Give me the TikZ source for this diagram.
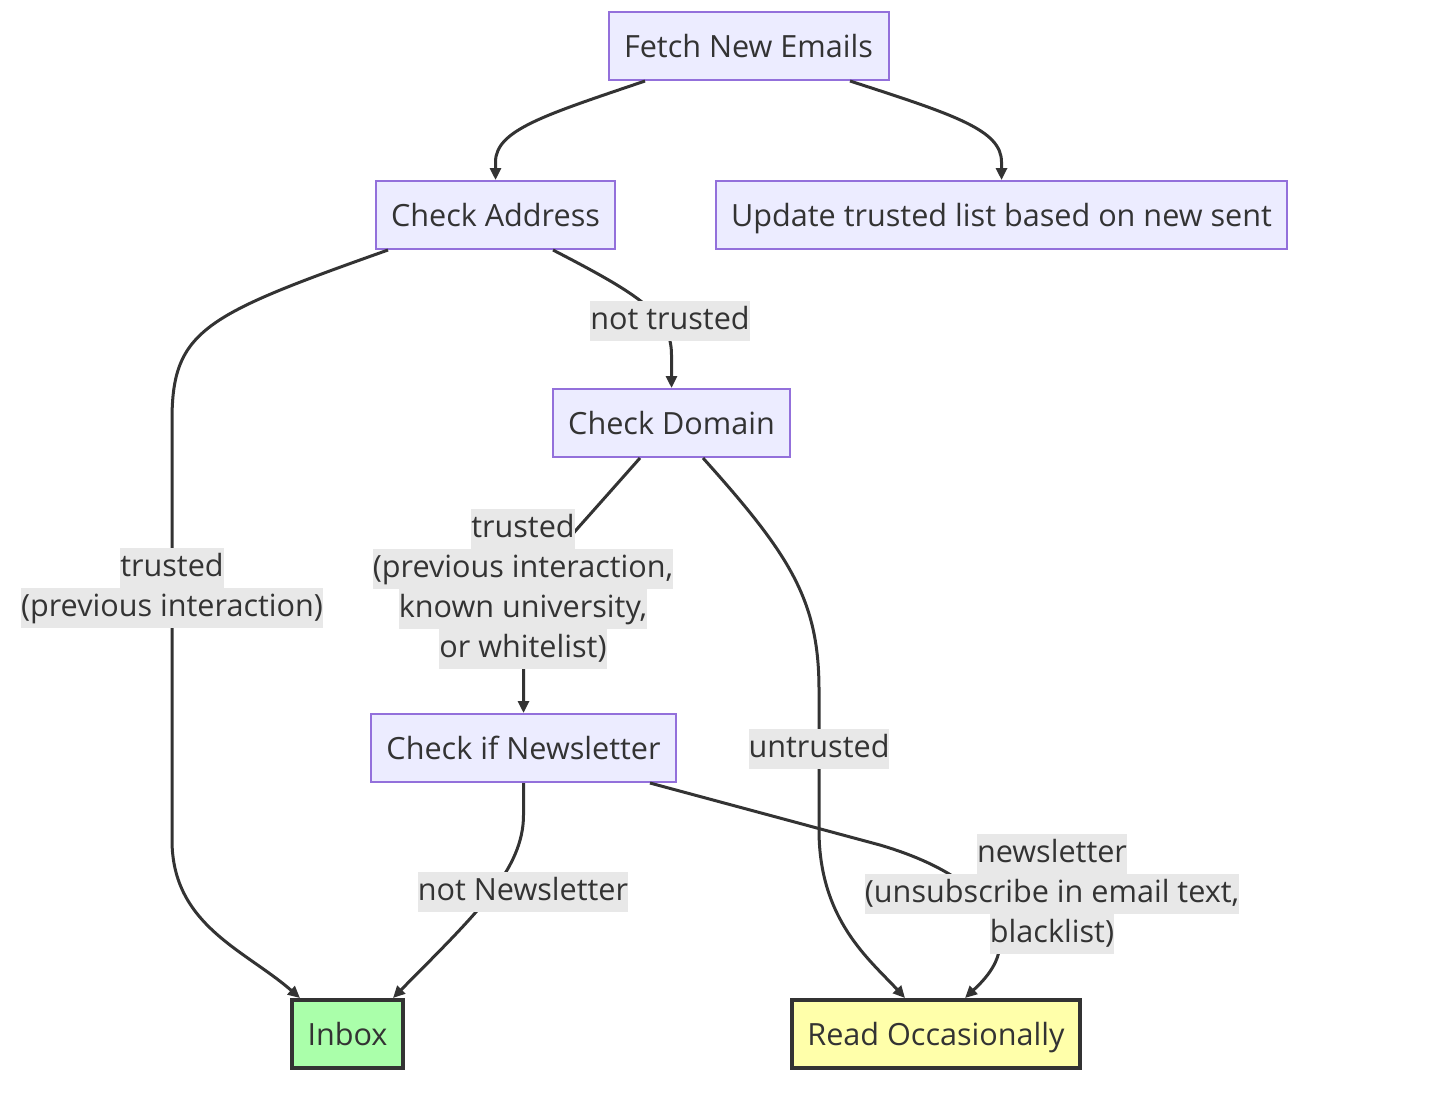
\documentclass[tikz,border=0pt]{standalone}
\usepackage{fontspec}
\setmainfont{Open Sans}
\usetikzlibrary{arrows.meta}

\definecolor{boxfill}{HTML}{ECECFF}
\definecolor{boxline}{HTML}{9370DB}
\definecolor{ink}{HTML}{333333}
\definecolor{lblbg}{HTML}{E8E8E8}
\definecolor{inboxfill}{HTML}{AAFFAA}
\definecolor{readfill}{HTML}{FFFFAA}

% one shaded line of an edge label
\newcommand\hlline[1]{{\setlength\fboxsep{0pt}\colorbox{lblbg}{\strut #1}}}

\begin{document}
\begin{tikzpicture}[
          x=0.5pt, y=-0.5pt,
          box/.style={
            draw=boxline, fill=boxfill, line width=1pt, text=ink,
            font=\fontsize{15.3}{20}\selectfont,
            minimum height=34pt, inner xsep=7.75pt,
            text height=11pt, text depth=0pt, anchor=center
          },
          sink/.style={box, draw=ink, line width=2pt},
          lbl/.style={text=ink, font=\fontsize{15.3}{20}\selectfont, align=center, inner sep=0pt},
          edge/.style={draw=ink, line width=1.5pt, -{Triangle[length=6pt, width=5.5pt]}},
        ]
          \useasboundingbox (0,0) rectangle (1454,1094);

          % Steps
          \node[box] (fetch) at (748.5, 46) {Fetch New Emails};
          \node[box] (addr) at (495.5, 215) {Check Address};
          \node[box] (update) at (1001.5, 215) {Update trusted list based on new sent};
          \node[box] (domain) at (671.5, 423) {Check Domain};
          \node[box] (news) at (523.5, 748) {Check if Newsletter};

          % Outcomes
          \node[sink, fill=inboxfill] (inbox) at (347.5, 1034) {Inbox};
          \node[sink, fill=readfill] (read) at (936, 1034) {Read Occasionally};

          % Edges out of Fetch
          \draw[edge] ([xshift=-51.75pt]fetch.south) .. controls (545,115) and (495.5,130) .. (addr.north |- 0,162) -- (addr.north);
          \draw[edge] ([xshift=50.75pt]fetch.south) .. controls (955,115) and (1001.5,130) .. (update.north |- 0,162) -- (update.north);

          % Edges out of Check Address
          \draw[edge] ([xshift=-53.75pt]addr.south) .. controls (205,315) and (172,330) .. (172,420) -- (172,840)
            .. controls (172,925) and (245,950) .. ([xshift=-23.75pt]inbox.north);
          \draw[edge] ([xshift=28.75pt]addr.south) .. controls (640,295) and (671.5,315) .. (domain.north |- 0,355) -- (domain.north);

          % Edges out of Check Domain
          \draw[edge] ([xshift=-15.75pt]domain.south) -- (585,520) .. controls (540,570) and (523.5,600) .. (news.north |- 0,640) -- (news.north);
          \draw[edge] ([xshift=15.75pt]domain.south) .. controls (790,555) and (819,600) .. (819,690) -- (819,830)
            .. controls (819,920) and (870,960) .. ([xshift=-15.5pt]read.north);

          % Edges out of Check if Newsletter
          \draw[edge] (news.south) -- (news.south |- 0,815) .. controls (523.5,870) and (475,915) .. ([xshift=22.75pt]inbox.north);
          \draw[edge] ([xshift=63.25pt]news.south) -- (880,845) .. controls (975,873) and (1000,915) .. (1000,942)
            .. controls (1000,965) and (982,982) .. ([xshift=14.5pt]read.north);

          % Edge labels
          \node[lbl] (lnottrusted) at (670, 321) {\hlline{not trusted}};
          \node[lbl] (ltrustaddr) at (172, 588) {\hlline{trusted}\\\hlline{(previous interaction)}};
          \node[lbl] (ltrustdom) at (523, 589) {\hlline{trusted}\\\hlline{(previous interaction,}\\\hlline{known university,}\\\hlline{or whitelist)}};
          \node[lbl] (luntrusted) at (819, 749) {\hlline{untrusted}};
          \node[lbl] (lnotnews) at (523, 892) {\hlline{not Newsletter}};
          \node[lbl] (lnews) at (1052, 894) {\hlline{newsletter}\\\hlline{(unsubscribe in email text,}\\\hlline{blacklist)}};
        \end{tikzpicture}
\end{document}
